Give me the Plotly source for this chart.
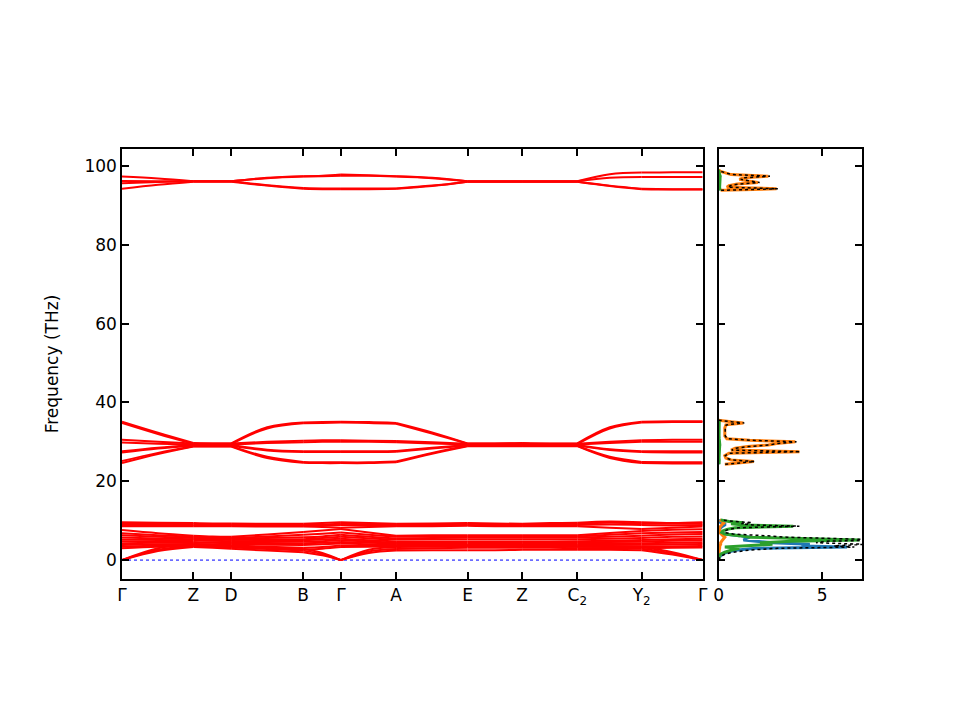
import plotly.graph_objects as go

# distance along the k-path: high-symmetry points with a midpoint between each pair
k_dist = [0.0, 0.062, 0.123, 0.156, 0.188, 0.250, 0.312, 0.345, 0.377, 0.425, 0.472,
          0.534, 0.595, 0.642, 0.689, 0.737, 0.784, 0.840, 0.895, 0.948, 1.0]
tick_labels = ["Γ", "Z", "D", "B", "Γ", "A", "E", "Z", "C<sub>2</sub>", "Y<sub>2</sub>", "Γ"]
freq_ticks = [0, 20, 40, 60, 80, 100]
dos_ticks = [0, 5]

# bands (THz), one value per k_dist entry
top_bands = [
    [97.3, 96.8, 96.1, 96.1, 96.1, 97.0, 97.4, 97.5, 97.8, 97.6, 97.4, 97.0, 96.1, 96.1, 96.1, 96.1, 96.1, 97.9, 98.3, 98.4, 98.4],
    [96.2, 96.1, 96.1, 96.1, 96.1, 96.9, 97.3, 97.4, 97.5, 97.5, 97.3, 96.9, 96.1, 96.1, 96.1, 96.1, 96.1, 97.0, 97.2, 97.2, 97.2],
    [95.6, 95.9, 96.1, 96.1, 96.1, 95.1, 94.4, 94.3, 94.3, 94.3, 94.3, 95.0, 96.0, 96.0, 96.0, 96.0, 96.0, 95.0, 94.2, 94.1, 94.1],
    [94.2, 95.2, 96.0, 96.0, 96.0, 95.0, 94.2, 94.1, 94.1, 94.1, 94.2, 94.9, 96.0, 96.0, 96.0, 96.0, 96.0, 94.9, 94.1, 94.0, 94.0],
]
mid_bands = [
    [35.1, 32.3, 29.7, 29.6, 29.6, 33.7, 34.9, 35.0, 35.1, 35.0, 34.8, 32.4, 29.6, 29.6, 29.7, 29.6, 29.6, 33.7, 35.1, 35.2, 35.2],
    [34.8, 32.0, 29.5, 29.4, 29.4, 33.4, 34.7, 34.8, 34.9, 34.8, 34.6, 32.1, 29.5, 29.5, 29.5, 29.4, 29.4, 33.4, 34.9, 35.0, 35.0],
    [30.5, 30.0, 29.6, 29.6, 29.6, 30.0, 30.3, 30.4, 30.4, 30.3, 30.2, 29.9, 29.5, 29.5, 29.6, 29.5, 29.5, 30.0, 30.4, 30.5, 30.5],
    [29.8, 29.5, 29.3, 29.3, 29.3, 29.7, 29.9, 30.0, 30.0, 30.0, 29.9, 29.6, 29.3, 29.3, 29.3, 29.3, 29.3, 29.7, 30.0, 30.0, 30.0],
    [27.6, 28.5, 29.2, 29.2, 29.2, 28.0, 27.6, 27.6, 27.6, 27.6, 27.7, 28.5, 29.2, 29.2, 29.2, 29.2, 29.2, 28.1, 27.6, 27.6, 27.6],
    [27.3, 28.3, 29.0, 29.0, 29.0, 27.8, 27.4, 27.4, 27.4, 27.4, 27.5, 28.3, 29.1, 29.1, 29.1, 29.1, 29.1, 27.9, 27.4, 27.3, 27.3],
    [25.1, 27.2, 28.9, 28.9, 28.9, 26.2, 24.9, 24.8, 24.8, 24.8, 25.0, 27.2, 29.0, 29.0, 29.0, 29.0, 29.0, 26.2, 24.9, 24.8, 24.8],
    [24.6, 26.9, 28.8, 28.8, 28.8, 25.9, 24.7, 24.6, 24.6, 24.6, 24.8, 27.0, 28.9, 28.9, 28.9, 28.9, 28.9, 25.9, 24.6, 24.5, 24.5],
]
low_bands = [
    [0.0, 2.3, 3.3, 3.1, 2.9, 2.4, 2.0, 1.2, 0.0, 1.8, 2.4, 2.5, 2.5, 2.5, 2.6, 2.6, 2.6, 2.6, 2.5, 1.4, 0.0],
    [0.0, 2.6, 3.6, 3.4, 3.2, 2.8, 2.4, 1.5, 0.0, 2.2, 2.8, 3.0, 3.1, 3.1, 3.1, 3.1, 3.0, 3.0, 2.9, 1.7, 0.0],
    [0.0, 3.0, 4.0, 3.8, 3.6, 3.2, 2.9, 1.8, 0.0, 2.6, 3.3, 3.4, 3.5, 3.5, 3.5, 3.5, 3.4, 3.4, 3.3, 2.0, 0.0],
    [9.6, 9.5, 9.4, 9.3, 9.3, 9.2, 9.2, 9.4, 9.6, 9.4, 9.2, 9.3, 9.4, 9.3, 9.2, 9.4, 9.5, 9.8, 9.6, 9.4, 9.6],
    [9.3, 9.2, 9.1, 9.0, 9.0, 8.9, 8.9, 9.0, 9.2, 9.1, 9.0, 9.1, 9.2, 9.1, 9.0, 9.1, 9.2, 9.5, 9.3, 9.2, 9.3],
    [8.9, 8.9, 8.8, 8.8, 8.8, 8.7, 8.7, 8.8, 8.9, 8.8, 8.7, 8.8, 8.9, 8.8, 8.8, 8.8, 8.9, 9.0, 8.9, 8.8, 8.9],
    [8.6, 8.6, 8.6, 8.6, 8.6, 8.5, 8.5, 8.4, 8.2, 8.4, 8.6, 8.6, 8.7, 8.6, 8.6, 8.6, 8.6, 8.2, 7.9, 8.2, 8.5],
    [7.6, 6.8, 6.2, 6.0, 5.9, 6.5, 7.1, 7.5, 7.9, 7.0, 6.2, 6.3, 6.3, 6.3, 6.3, 6.3, 6.3, 6.9, 7.4, 7.7, 7.8],
    [6.8, 6.3, 5.9, 5.7, 5.6, 6.0, 6.4, 6.7, 7.0, 6.4, 5.9, 6.0, 6.0, 6.0, 6.0, 6.0, 6.0, 6.4, 6.8, 7.0, 7.1],
    [6.3, 5.9, 5.6, 5.5, 5.4, 5.6, 5.8, 6.0, 6.4, 5.9, 5.5, 5.6, 5.7, 5.7, 5.7, 5.7, 5.7, 5.9, 6.2, 6.5, 6.6],
    [5.7, 5.5, 5.3, 5.2, 5.1, 5.2, 5.3, 5.6, 5.9, 5.5, 5.2, 5.3, 5.3, 5.3, 5.3, 5.3, 5.3, 5.4, 5.6, 5.9, 6.0],
    [5.2, 5.1, 5.0, 4.9, 4.8, 4.9, 5.0, 5.2, 5.4, 5.0, 4.7, 4.7, 4.7, 4.7, 4.7, 4.7, 4.8, 4.9, 5.1, 5.3, 5.4],
    [4.8, 4.7, 4.6, 4.5, 4.5, 4.6, 4.7, 4.8, 5.0, 4.7, 4.4, 4.5, 4.5, 4.5, 4.5, 4.5, 4.5, 4.6, 4.7, 4.9, 5.0],
    [4.3, 4.4, 4.4, 4.4, 4.3, 4.3, 4.3, 4.4, 4.6, 4.4, 4.2, 4.1, 4.1, 4.1, 4.1, 4.2, 4.2, 4.3, 4.3, 4.4, 4.5],
    [3.8, 4.0, 4.1, 4.0, 4.0, 3.9, 3.8, 4.0, 4.2, 4.0, 3.9, 3.9, 3.9, 3.9, 3.9, 3.9, 3.9, 3.9, 3.9, 4.0, 4.1],
    [3.4, 3.7, 3.9, 3.8, 3.7, 3.4, 3.1, 3.3, 3.7, 3.6, 3.7, 3.7, 3.7, 3.7, 3.7, 3.7, 3.7, 3.6, 3.5, 3.5, 3.6],
    [3.0, 3.4, 3.6, 3.5, 3.4, 3.1, 2.7, 2.9, 3.3, 3.4, 3.5, 3.5, 3.5, 3.5, 3.5, 3.5, 3.4, 3.3, 3.1, 3.1, 3.2],
]

# projected DOS (states/THz); None marks the gaps between the three band groups
dos_freq = [0.0, 0.5, 1.0, 1.5, 2.0, 2.5, 3.0, 3.3, 3.6, 4.0, 4.4, 4.8, 5.1, 5.4, 5.8, 6.2, 6.6, 7.0, 7.4,
            7.8, 8.2, 8.6, 8.9, 9.2, 9.5, 9.8, 10.2,
            17.0,
            24.3, 24.7, 25.0, 25.4, 25.9, 26.5, 27.1, 27.5, 27.9, 28.4, 28.8, 29.2, 29.6, 30.0, 30.4, 30.8,
            31.5, 32.5, 33.5, 34.3, 34.8, 35.1, 35.5,
            65.0,
            93.8, 94.2, 94.6, 95.0, 95.4, 95.8, 96.2, 96.6, 97.0, 97.4, 97.8, 98.2, 98.6, 99.0]
dos_blue = [0, 0.02, 0.08, 0.2, 0.4, 0.8, 1.8, 6.2, 4.0, 4.4, 2.6, 1.6, 1.2, 1.3, 1.5, 1.0, 0.3, 0.1, 0.05,
            0.05, 0.1, 0.2, 0.3, 0.3, 0.1, 0.05, 0,
            None,
            0, 0, 0, 0, 0, 0, 0, 0, 0, 0, 0, 0, 0, 0, 0, 0, 0, 0, 0, 0, 0, 0, 0,
            None,
            0, 0, 0, 0, 0, 0, 0, 0, 0, 0, 0, 0, 0, 0]
dos_orange = [0, 0, 0, 0.01, 0.02, 0.03, 0.05, 0.05, 0.06, 0.1, 0.1, 0.15, 0.2, 0.25, 0.3, 0.2, 0.1, 0.05, 0.05,
              0.05, 0.05, 0.1, 0.15, 0.2, 0.3, 0.2, 0.05,
              None,
              0.3, 1.0, 1.7, 0.6, 0.35, 0.3, 0.5, 3.9, 0.6, 0.8, 1.4, 2.4, 2.8, 3.7, 1.5, 0.4,
              0.3, 0.3, 0.3, 0.35, 1.2, 0.6, 0,
              None,
              0.1, 2.8, 0.4, 0.5, 0.9, 1.9, 1.4, 1.0, 1.2, 2.4, 0.6, 0.3, 0.1, 0]
dos_green = [0, 0.01, 0.04, 0.1, 0.3, 0.6, 1.0, 0.3, 1.5, 2.6, 2.0, 3.5, 6.8, 4.0, 1.5, 1.0, 0.3, 0.15, 0.2,
             0.4, 0.8, 3.6, 1.2, 0.6, 1.2, 0.5, 0.1,
             None,
             0.02, 0.03, 0.04, 0.03, 0.02, 0.02, 0.03, 0.05, 0.03, 0.04, 0.05, 0.06, 0.06, 0.06, 0.05, 0.03,
             0.02, 0.02, 0.02, 0.02, 0.04, 0.03, 0,
             None,
             0.02, 0.06, 0.05, 0.06, 0.07, 0.08, 0.08, 0.07, 0.07, 0.08, 0.05, 0.03, 0.01, 0]
dos_total = [None if b is None else b + o + g for b, o, g in zip(dos_blue, dos_orange, dos_green)]

fig = go.Figure()

# each path segment is drawn on its own so kinks at the high-symmetry points stay sharp
band_x, band_y = [], []
for band in top_bands + mid_bands + low_bands:
    for s in range(0, len(k_dist) - 1, 2):
        band_x += k_dist[s:s + 3] + [None]
        band_y += band[s:s + 3] + [None]

fig.add_trace(go.Scatter(x=band_x, y=band_y, mode="lines", showlegend=False,
                         line=dict(color="#ff0000", width=2, shape="spline")))
fig.add_shape(type="line", xref="x domain", yref="y", x0=0, x1=1, y0=0, y1=0,
              line=dict(color="blue", width=1, dash="dot"), layer="below")

for vals, col in [(dos_blue, "#1f77b4"), (dos_orange, "#ff7f0e"), (dos_green, "#2ca02c")]:
    fig.add_trace(go.Scatter(x=vals, y=dos_freq, mode="lines", showlegend=False, connectgaps=False,
                             line=dict(color=col, width=3), xaxis="x2", yaxis="y2"))
fig.add_trace(go.Scatter(x=dos_total, y=dos_freq, mode="lines", showlegend=False, connectgaps=False,
                         line=dict(color="black", width=1.5, dash="dot"), xaxis="x2", yaxis="y2"))

ax = dict(showline=True, linecolor="black", linewidth=1.5, mirror="ticks", ticks="inside",
          ticklen=7, tickwidth=1.5, tickcolor="black", showgrid=False, zeroline=False,
          automargin=False, tickfont=dict(size=17, color="black"))

fig.update_layout(
    width=960, height=720,
    margin=dict(l=114, r=106, t=141, b=149),
    paper_bgcolor="white", plot_bgcolor="white",
    font=dict(family="DejaVu Sans", size=17, color="black"),
    xaxis=dict(ax, domain=[0, 0.7847], range=[0, 1], tickvals=k_dist[::2], ticktext=tick_labels),
    yaxis=dict(ax, domain=[0, 1], range=[-4.80, 104.29], tickvals=freq_ticks,
               title=dict(text="Frequency (THz)", font=dict(size=17), standoff=21)),
    xaxis2=dict(ax, domain=[0.8062, 1], range=[0, 6.92], tickvals=dos_ticks, anchor="y2"),
    yaxis2=dict(ax, domain=[0, 1], matches="y", tickvals=freq_ticks,
                showticklabels=False, anchor="x2"),
)

fig.write_html("out.html")
